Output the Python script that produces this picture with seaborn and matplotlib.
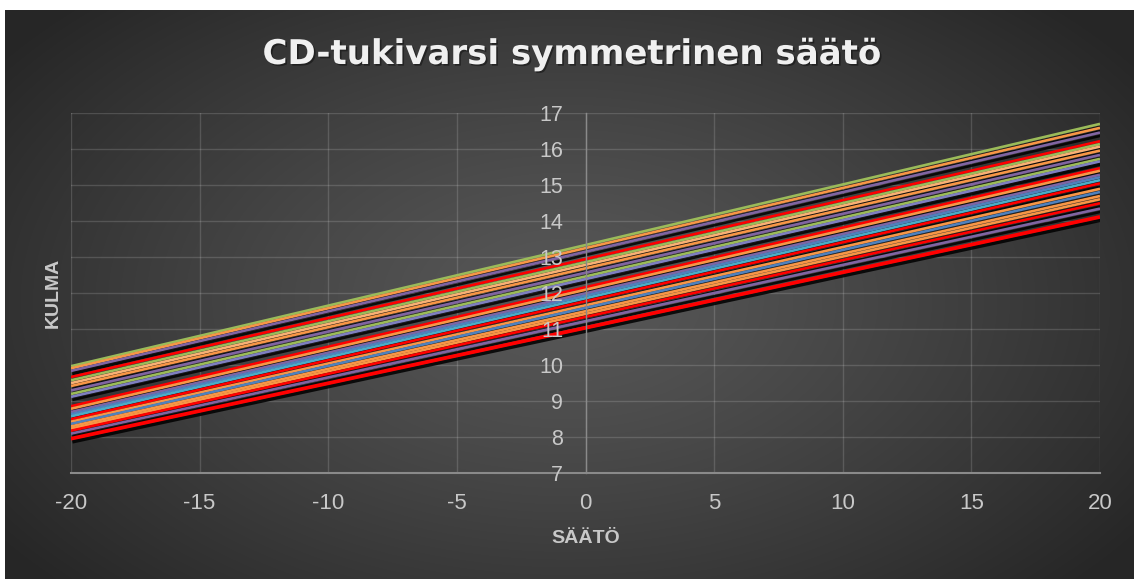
import numpy as np
import pandas as pd
import matplotlib
matplotlib.use("Agg")
import matplotlib.pyplot as plt
import matplotlib.patheffects as pe
import seaborn as sns

# ---------------- data ----------------
chart_title = "CD-tukivarsi symmetrinen säätö"
x_label = "SÄÄTÖ"
y_label = "KULMA"
x_points = [-20, 20]
x_ticks = [-20, -15, -10, -5, 0, 5, 10, 15, 20]
y_ticks = [7, 8, 9, 10, 11, 12, 13, 14, 15, 16, 17]

series_names = [f"Sarja{i}" for i in range(1, 24)]
values_at_minus20 = [9.97, 9.91, 9.84, 9.67, 9.58, 9.50, 9.42, 9.30,
                     9.20, 9.12, 8.86, 8.79, 8.70, 8.64, 8.58, 8.50,
                     8.43, 8.37, 8.30, 8.24, 8.18, 8.10, 7.96]
values_at_plus20 = [16.69, 16.58, 16.45, 16.21, 16.13, 16.06, 15.95, 15.83,
                    15.72, 15.65, 15.46, 15.39, 15.28, 15.21, 15.13, 15.04,
                    14.89, 14.80, 14.69, 14.60, 14.49, 14.34, 14.11]
series_colors = ["#9BBB59", "#F79646", "#8064A2", "#FF0000", "#9BBB59", "#F9B074",
                 "#F79646", "#8064A2", "#9BBB59", "#7F7FC0", "#FF0000", "#F79646",
                 "#8064A2", "#4F81BD", "#4BACC6", "#FF0000", "#F79646", "#4F81BD",
                 "#F79646", "#F79646", "#FF0000", "#8064A2", "#FF0000"]

rows = []
for name, a, b in zip(series_names, values_at_minus20, values_at_plus20):
    rows.append({"series": name, x_label: x_points[0], y_label: a})
    rows.append({"series": name, x_label: x_points[1], y_label: b})
df = pd.DataFrame(rows)

plt.rcParams["axes.unicode_minus"] = False

# ---------------- figure ----------------
W, H = 1134, 579
fig = plt.figure(figsize=(W / 100, H / 100), dpi=100, facecolor="white")

# dark radial gradient chart background
bg = fig.add_axes([5 / W, 0, 1 - 5 / W, 1 - 10 / H])
bg.set_axis_off()
gy, gx = np.mgrid[0:569, 0:1129]
cx, cy = 560, 290
r = np.sqrt(((gx - cx) / 700.0) ** 2 + ((gy - cy) / 420.0) ** 2)
r = np.clip(r, 0, 1)
c_in, c_out = 0x58 / 255, 0x26 / 255
shade = c_in - (c_in - c_out) * r ** 1.2
img = np.dstack([shade, shade, shade])
bg.imshow(img, aspect="auto", interpolation="bilinear")

rect = [71 / W, 1 - 473.3 / H, (1100 - 71) / W, (473.3 - 112.7) / H]
ax = fig.add_axes(rect)
ax.set_facecolor("none")

sns.lineplot(data=df, x=x_label, y=y_label, hue="series", hue_order=series_names,
             palette=dict(zip(series_names, series_colors)), linewidth=1.9,
             legend=False, estimator=None, sort=False, ax=ax)

for i, line in enumerate(ax.lines):
    line.set_solid_capstyle("butt")
    if i == len(ax.lines) - 1:
        line.set_linewidth(2.7)
    line.set_path_effects([pe.SimpleLineShadow(offset=(1.0, -2.2), shadow_color="black", alpha=0.85),
                           pe.Normal()])

ax.set_xlim(-20, 20)
ax.set_ylim(7, 17)
ax.set_xticks(x_ticks)
ax.set_yticks(y_ticks)
ax.grid(True, color="white", alpha=0.15, linewidth=1.0)
ax.set_axisbelow(True)

for s in ["top", "right", "left"]:
    ax.spines[s].set_visible(False)
ax.spines["bottom"].set_color("#8A8A8A")
ax.spines["bottom"].set_linewidth(1.5)

tick_font = ["Liberation Sans", "DejaVu Sans"]
ax.tick_params(axis="x", length=0, pad=14, labelsize=16, labelcolor="#C8C8C8")
ax.tick_params(axis="y", length=0, labelleft=False)
for lab in ax.get_xticklabels():
    lab.set_family(tick_font)

ax.set_xlabel(x_label, fontsize=14, fontweight="bold", color="#C8C8C8",
              family=["Liberation Sans", "DejaVu Sans"], labelpad=12)
ax.set_ylabel(y_label, fontsize=14, fontweight="bold", color="#C8C8C8",
              family=["Liberation Sans", "DejaVu Sans"])
ax.yaxis.set_label_coords(-0.009, 0.5)

# overlay axes: vertical axis at x=0 with its labels drawn above the lines
ov = fig.add_axes(rect)
ov.set_facecolor("none")
ov.set_xlim(-20, 20)
ov.set_ylim(7, 17)
ov.set_xticks([])
ov.set_yticks(y_ticks)
for s in ["top", "right", "bottom"]:
    ov.spines[s].set_visible(False)
ov.spines["left"].set_position(("data", 0))
ov.spines["left"].set_color("#8A8A8A")
ov.spines["left"].set_linewidth(1.0)
ov.tick_params(axis="y", length=0, pad=16, labelsize=15.5, labelcolor="#C8C8C8")
for lab in ov.get_yticklabels():
    lab.set_family(tick_font)

fig.text(572 / W, 1 - 64 / H, chart_title, ha="center", va="baseline", fontsize=24.5,
         fontweight="bold", color="#F0F0F0", family=["DejaVu Sans"],
         path_effects=[pe.withSimplePatchShadow(offset=(1.2, -1.2), shadow_rgbFace="black", alpha=0.4)])

fig.savefig("out.png", dpi=100, facecolor="white")
